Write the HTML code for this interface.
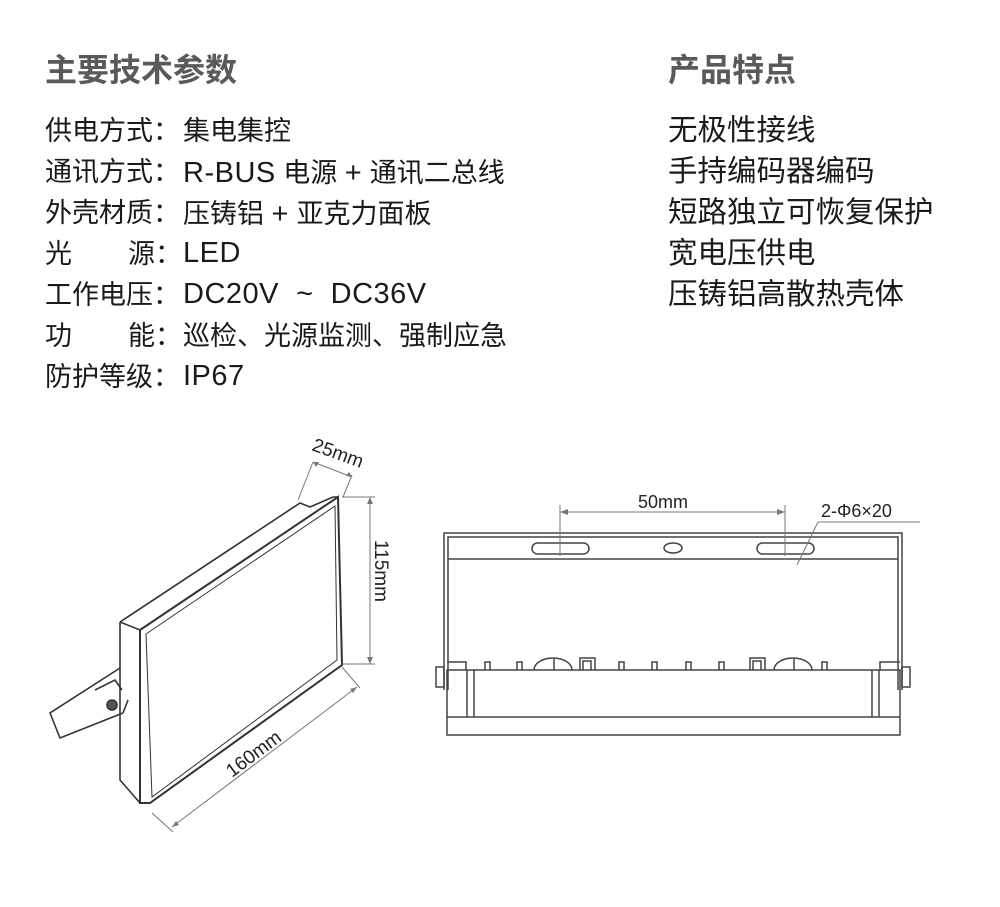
<!DOCTYPE html>
<html><head><meta charset="utf-8">
<style>
body{margin:0;width:1000px;height:907px;background:#fff;position:relative;overflow:hidden;font-family:"Liberation Sans","Noto Sans CJK SC",sans-serif;}
.t{position:absolute;white-space:nowrap;color:#1a1a1a;font-size:27px;line-height:1;}
.r{font-size:29.5px;}
.l{font-size:29px;letter-spacing:0.5px}
.h{position:absolute;white-space:nowrap;color:#5a5a5a;font-size:32px;font-weight:bold;line-height:1;}
svg{position:absolute;left:0;top:0}
</style></head><body>
<div class="h" style="left:45px;top:54px">主要技术参数</div>
<div class="h" style="left:668px;top:54px">产品特点</div>

<div class="t" style="left:45px;top:118px">供电方式：</div><div class="t" style="left:183px;top:118px">集电集控</div>
<div class="t" style="left:45px;top:159px">通讯方式：</div><div class="t" style="left:183px;top:159px"><span class="l">R-BUS</span> 电源 <span class="l">+</span> 通讯二总线</div>
<div class="t" style="left:45px;top:200px">外壳材质：</div><div class="t" style="left:183px;top:200px">压铸铝 <span class="l">+</span> 亚克力面板</div>
<div class="t" style="left:45px;top:241px">光</div><div class="t" style="left:128px;top:241px">源：</div><div class="t" style="left:183px;top:239px"><span class="l">LED</span></div>
<div class="t" style="left:45px;top:282px">工作电压：</div><div class="t" style="left:183px;top:280px"><span class="l">DC20V &nbsp;~&nbsp; DC36V</span></div>
<div class="t" style="left:45px;top:323px">功</div><div class="t" style="left:128px;top:323px">能：</div><div class="t" style="left:183px;top:323px">巡检、光源监测、强制应急</div>
<div class="t" style="left:45px;top:364px">防护等级：</div><div class="t" style="left:183px;top:362px"><span class="l">IP67</span></div>

<div class="t r" style="left:668px;top:116px">无极性接线</div>
<div class="t r" style="left:668px;top:157px">手持编码器编码</div>
<div class="t r" style="left:668px;top:198px">短路独立可恢复保护</div>
<div class="t r" style="left:668px;top:239px">宽电压供电</div>
<div class="t r" style="left:668px;top:280px">压铸铝高散热壳体</div>

<svg width="1000" height="907" viewBox="0 0 1000 907" fill="none" stroke="#333" stroke-width="1.6">
<path d="M120,668 L50,713 L60,738 L123,713"/>
<path d="M95,690 L115,680 L122,690"/>
<circle cx="112" cy="705" r="5" fill="#555"/>
<path d="M120,622 L120,780 L140,803"/>
<path d="M120,622 L300,503 L310,507 L333,497 L338,497"/>
<path d="M120,622 L140,630"/>
<path d="M140,630 L338,497 L342,665 L150,803 L140,803 Z" stroke-width="2"/>
<path d="M146,634 L335,506 L337,660 L152,797 Z" stroke-width="1"/>
<path d="M123,713 L128,700"/>
<g stroke="#777" stroke-width="1">
<path d="M298,500 L313,462 M343,497 L352,475 M313,462 L352,477"/>
<path d="M342,497 L375,497 M342,664 L375,664 M370,497 L370,664"/>
<path d="M342,667 L360,688 M152,813 L173,832 M357,687 L172,827"/>
</g>
<g fill="#777" stroke="none">
<path d="M313,462 l6,0 l-3,5z"/><path d="M352,477 l-6,-1 l3,-4z"/>
<path d="M370,497 l-3,7 l6,0z"/><path d="M370,664 l-3,-7 l6,0z"/>
<path d="M357,687 l-7,2 l3,4z"/><path d="M172,827 l7,-2 l-3,-4z"/>
</g>
<g fill="#222" stroke="none" font-family="Liberation Sans,sans-serif" font-size="19">
<text transform="translate(311,450) rotate(20)">25mm</text>
<text transform="translate(375,540) rotate(90)">115mm</text>
<text transform="translate(232,778) rotate(-37)">160mm</text>
</g>
<g stroke="#444" stroke-width="1.5">
<path d="M444,690 L444,533 L902,533 L902,690"/>
<path d="M448,690 L448,537 L898,537 L898,690"/>
<path d="M448,559 L898,559"/>
<rect x="532" y="543" width="57" height="11" rx="5.5"/>
<rect x="757" y="543" width="57" height="11" rx="5.5"/>
<ellipse cx="673" cy="548" rx="9" ry="5"/>
<rect x="447" y="670" width="453" height="65"/>
<path d="M447,717 L900,717"/>
<path d="M467,670 V717 M474,670 V717 M872,670 V717 M879,670 V717"/>
<path d="M466,670 L466,662 L447,662 M880,670 L880,662 L900,662"/>
<rect x="436" y="667" width="8" height="20"/><rect x="902" y="667" width="8" height="20"/>
<path d="M485,670 v-8 h5 v8 M517,670 v-8 h5 v8 M619,670 v-8 h5 v8 M652,670 v-8 h5 v8 M686,670 v-8 h5 v8 M719,670 v-8 h5 v8 M822,670 v-8 h5 v8"/>
<path d="M580,670 v-12 h15 v12 M583,670 v-9 h8 v9 M750,670 v-12 h15 v12 M753,670 v-9 h8 v9"/>
<path d="M534,670 a19,12 0 0 1 38,0 M554,658 v12 M774,670 a19,12 0 0 1 38,0 M794,658 v12"/>
</g>
<g stroke="#777" stroke-width="1">
<path d="M560,505 V556 M785,505 V556 M560,512 H785"/>
<path d="M818,522 H920 M818,522 L797,565"/>
</g>
<g fill="#777" stroke="none"><path d="M560,512 l8,-3 v6z"/><path d="M785,512 l-8,-3 v6z"/></g>
<g fill="#222" stroke="none" font-family="Liberation Sans,sans-serif" font-size="18">
<text x="638" y="508">50mm</text>
<text x="821" y="517">2-Φ6×20</text>
</g>
</svg>
</body></html>
